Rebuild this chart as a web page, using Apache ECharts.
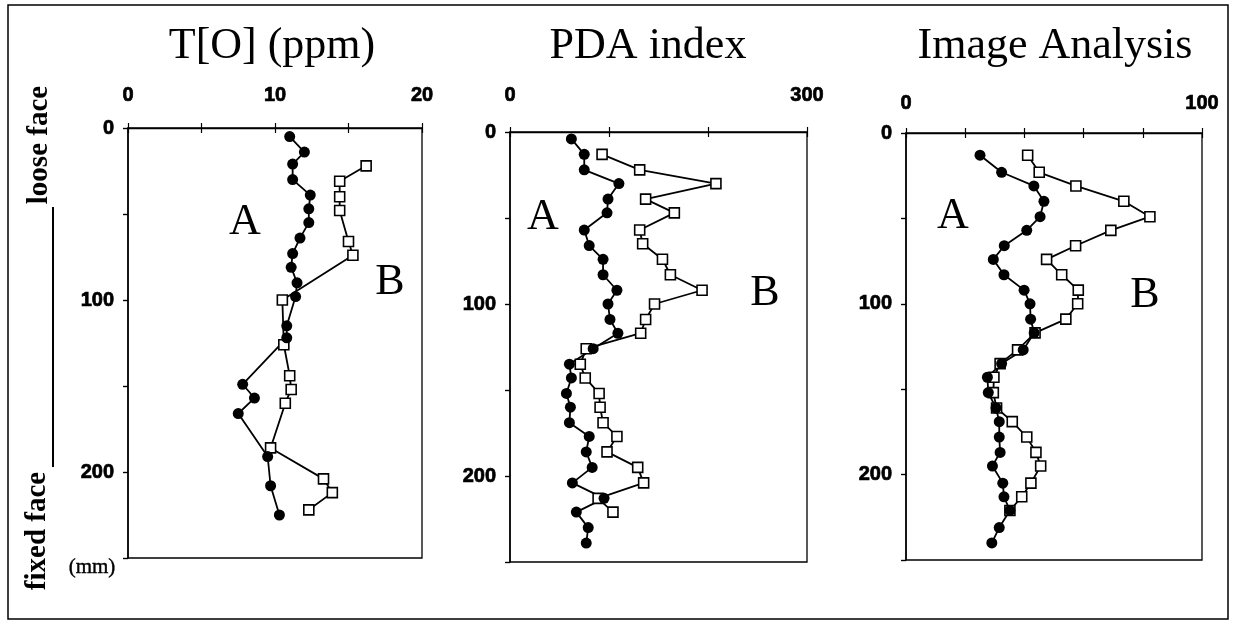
<!DOCTYPE html>
<html>
<head>
<meta charset="utf-8">
<script src="https://cdn.jsdelivr.net/npm/echarts@6/dist/echarts.min.js"></script>
<style>
  html, body { margin: 0; padding: 0; background: #fff; }
  #chart { width: 1233px; height: 629px; }
</style>
</head>
<body>
<div id="chart"></div>
<script>
// depth in mm (0 = loose face)
var titles = ['T[O] (ppm)', 'PDA index', 'Image Analysis'];

var tDepthA = [5, 14, 21, 30, 39, 47, 55, 64, 73, 81, 90, 98, 115, 122, 149, 157, 166, 191, 208, 225];
var tA = [11.0, 12.0, 11.2, 11.2, 12.4, 12.3, 12.3, 11.7, 11.2, 11.1, 11.5, 11.4, 10.8, 10.8, 7.8, 8.6, 7.5, 9.5, 9.7, 10.3];
var tDepthB = [22, 31, 40, 48, 66, 74, 100, 126, 144, 152, 160, 186, 204, 212, 222];
var tB = [16.2, 14.4, 14.4, 14.4, 15.0, 15.3, 10.5, 10.6, 11.0, 11.1, 10.7, 9.7, 13.3, 13.9, 12.3];

var pdaDepthA = [4, 13, 22, 30, 39, 47, 57, 66, 74, 83, 92, 100, 109, 117, 126, 135, 143, 152, 160, 169, 177, 186, 195, 204, 213, 221, 230, 239];
var pdaA = [62, 75, 75, 110, 99, 98, 75, 80, 94, 94, 108, 99, 101, 109, 84, 60, 62, 57, 61, 60, 80, 77, 83, 63, 95, 67, 79, 77];
var pdaDepthB = [13, 22, 30, 39, 47, 57, 65, 74, 83, 92, 100, 109, 117, 126, 135, 143, 152, 160, 169, 177, 186, 195, 204, 213, 221];
var pdaB = [93, 131, 208, 137, 166, 131, 134, 154, 162, 194, 146, 137, 132, 77, 71, 76, 90, 91, 94, 108, 98, 129, 135, 89, 104];

var iaDepthA = [13, 23, 31, 40, 49, 57, 66, 74, 83, 92, 100, 109, 117, 127, 135, 143, 152, 161, 169, 178, 187, 195, 205, 213, 221, 231, 240];
var iaA = [25, 32.3, 43.2, 46.6, 45.3, 40.8, 33.2, 29.5, 33.1, 39.9, 41.9, 42.1, 43.3, 39.6, 32.3, 27.5, 27.8, 30.4, 31.5, 31.5, 31.8, 29.2, 32.7, 33.1, 35.1, 31.5, 29];
var iaDepthB = [13, 23, 31, 40, 49, 57, 66, 74, 83, 92, 100, 109, 117, 127, 135, 143, 152, 161, 169, 178, 187, 195, 205, 213, 221];
var iaB = [41.1, 45, 57.4, 73.6, 82.4, 69.2, 57.3, 47.5, 52.6, 58.2, 58, 54, 43.6, 37.7, 31.8, 29.7, 29.5, 30.6, 35.9, 40.8, 43.9, 45.5, 42.2, 39.1, 35.1];

var xMax = [20, 300, 100];
var xStep = [5, 100, 20];
var xShown = [[0, 10, 20], [0, 300], [0, 100]];
var yTicks = [0, 100, 200];

var panels = [
    { left: 128, top: 128, width: 294, height: 430, xMargin: 23, cx: 272, a: [245, 222], b: [390, 282] },
    { left: 510, top: 132, width: 297, height: 430, xMargin: 27, cx: 648, a: [543, 217], b: [765, 293] },
    { left: 906, top: 133, width: 296, height: 427, xMargin: 20, cx: 1055, a: [953, 216], b: [1145, 295] }
];

var seriesData = [[tA, tDepthA, tB, tDepthB], [pdaA, pdaDepthA, pdaB, pdaDepthB], [iaA, iaDepthA, iaB, iaDepthB]];

function pairs(vals, depths) {
    return vals.map(function (v, i) { return [v, depths[i]]; });
}

var tickFont = { fontFamily: 'Liberation Sans', fontWeight: 'bold', fontSize: 20, color: '#000', textBorderColor: '#000', textBorderWidth: 0.7 };
var serif = 'Liberation Serif';

var grid = [], xAxis = [], yAxis = [], series = [], graphic = [];

panels.forEach(function (p, i) {
    grid.push({ left: p.left, top: p.top, width: p.width, height: p.height, show: true, borderColor: '#000', borderWidth: 1.3, backgroundColor: 'transparent' });
    var shown = xShown[i];
    // main axes (labels, outside ticks)
    xAxis.push({
        type: 'value', gridIndex: i, position: 'top', min: 0, max: xMax[i], interval: xStep[i],
        axisLine: { lineStyle: { color: '#000', width: 1.3 } },
        axisTick: { length: 5, lineStyle: { color: '#000', width: 1.2 } },
        axisLabel: Object.assign({ margin: p.xMargin, formatter: function (v) { return shown.indexOf(v) >= 0 ? String(v) : ''; } }, tickFont),
        splitLine: { show: false }
    });
    // inside ticks so the marks cross the axis
    xAxis.push({
        type: 'value', gridIndex: i, position: 'top', offset: 0, min: 0, max: xMax[i], interval: xStep[i],
        axisLine: { show: false }, axisLabel: { show: false }, splitLine: { show: false },
        axisTick: { inside: true, length: 5, lineStyle: { color: '#000', width: 1.2 } }
    });
    yAxis.push({
        type: 'value', gridIndex: i, inverse: true, min: 0, max: 250, interval: 50,
        axisLine: { lineStyle: { color: '#000', width: 1.5 } },
        axisTick: { length: 5, lineStyle: { color: '#000', width: 1.2 } },
        axisLabel: Object.assign({ margin: 14, formatter: function (v) { return yTicks.indexOf(v) >= 0 ? String(v) : ''; } }, tickFont),
        splitLine: { show: false }
    });
    yAxis.push({
        type: 'value', gridIndex: i, inverse: true, offset: 0, min: 0, max: 250, interval: 50,
        axisLine: { show: false }, axisLabel: { show: false }, splitLine: { show: false },
        axisTick: { inside: true, length: 5, lineStyle: { color: '#000', width: 1.2 } }
    });

    var d = seriesData[i];
    series.push({
        name: 'B', type: 'line', xAxisIndex: 2 * i, yAxisIndex: 2 * i,
        data: pairs(d[2], d[3]),
        symbol: 'rect', symbolSize: 10,
        lineStyle: { color: '#000', width: 1.8 },
        itemStyle: { color: '#fff', borderColor: '#000', borderWidth: 1.6 }
    });
    series.push({
        name: 'A', type: 'line', xAxisIndex: 2 * i, yAxisIndex: 2 * i,
        data: pairs(d[0], d[1]),
        symbol: 'circle', symbolSize: 11,
        lineStyle: { color: '#000', width: 1.8 },
        itemStyle: { color: '#000', borderColor: '#000', borderWidth: 0 }
    });

    graphic.push({ type: 'text', x: p.cx, y: 46, style: { text: titles[i], font: '44px ' + serif, fill: '#000', textAlign: 'center', textVerticalAlign: 'middle' } });
    graphic.push({ type: 'text', x: p.a[0], y: p.a[1], style: { text: 'A', font: '44px ' + serif, fill: '#000', textAlign: 'center', textVerticalAlign: 'middle' } });
    graphic.push({ type: 'text', x: p.b[0], y: p.b[1], style: { text: 'B', font: '44px ' + serif, fill: '#000', textAlign: 'center', textVerticalAlign: 'middle' } });
});

// side annotations
graphic.push({ type: 'text', x: 40, y: 145, rotation: Math.PI / 2, style: { text: 'loose face', font: 'bold 29px ' + serif, fill: '#000', textAlign: 'center', textVerticalAlign: 'middle' } });
graphic.push({ type: 'text', x: 38, y: 531, rotation: Math.PI / 2, style: { text: 'fixed face', font: 'bold 29px ' + serif, fill: '#000', textAlign: 'center', textVerticalAlign: 'middle' } });
graphic.push({ type: 'line', shape: { x1: 53, y1: 207, x2: 53, y2: 467 }, style: { stroke: '#000', lineWidth: 2 } });
graphic.push({ type: 'text', x: 92, y: 567, style: { text: '(mm)', font: '21px ' + serif, fill: '#000', stroke: '#000', lineWidth: 0.4, textAlign: 'center', textVerticalAlign: 'middle' } });
graphic.push({ type: 'rect', shape: { x: 8, y: 5, width: 1220, height: 614 }, style: { fill: 'none', stroke: '#000', lineWidth: 1.5 }, z: -1 });

var chart = echarts.init(document.getElementById('chart'));
chart.setOption({
    animation: false,
    backgroundColor: '#fff',
    grid: grid,
    xAxis: xAxis,
    yAxis: yAxis,
    series: series,
    graphic: graphic
});
</script>
</body>
</html>
